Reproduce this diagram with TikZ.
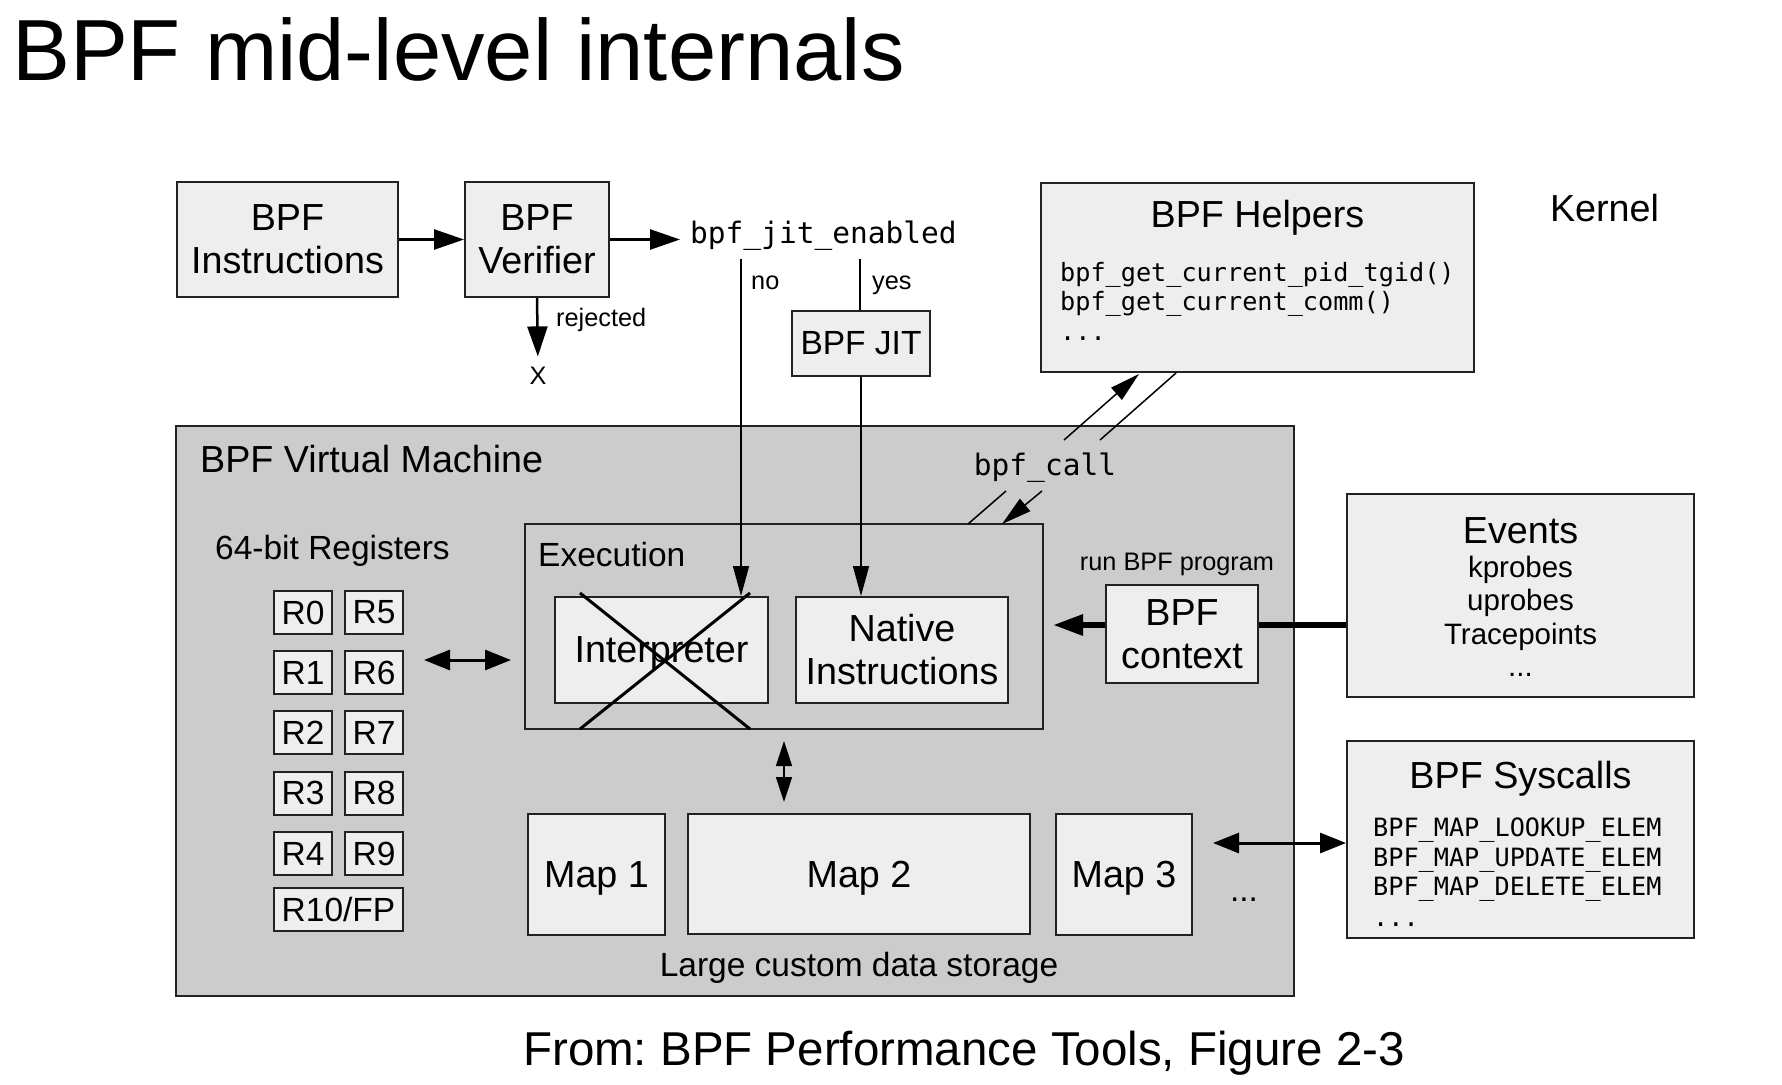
\documentclass[tikz,border=0pt]{standalone}
\usepackage{fontspec}
\setmainfont{Liberation Sans}
\setmonofont{DejaVu Sans Mono}
\usetikzlibrary{arrows.meta,positioning}
\definecolor{boxgray}{HTML}{EEEEEE}
\definecolor{vmgray}{HTML}{CCCCCC}
\definecolor{linegray}{HTML}{222222}
\newcommand{\bigtxt}{\fontsize{37.7}{43}\selectfont}
\newcommand{\midtxt}{\fontsize{33.5}{38}\selectfont}
\newcommand{\evtxt}{\fontsize{29.5}{34}\selectfont}
\newcommand{\smalltxt}{\fontsize{25.3}{30}\selectfont}
\newcommand{\codetxt}{\ttfamily\fontsize{29.5}{34}\selectfont}
\newcommand{\smallcode}{\ttfamily\fontsize{25.2}{30}\selectfont}
\frenchspacing

\begin{document}
\begin{tikzpicture}[x=1pt,y=-1pt]
    \tikzset{box/.style = {shape=rectangle,draw=linegray,line width=2pt,fill=boxgray,align=center,inner sep=0pt,font=\bigtxt}}
    \tikzset{onebox/.style = {box,text depth=0pt}}
    \tikzset{reg/.style = {box,font=\midtxt,minimum width=58pt,minimum height=43pt}}
    \tikzset{label/.style = {inner sep=0pt}}
    \tikzset{edge/.style = {-{Triangle[length=30pt,width=20pt]},line width=2.5pt}}
    \tikzset{thin edge/.style = {-{Triangle[length=30pt,width=16pt]},line width=1.5pt}}
    \tikzset{both edge/.style = {{Triangle[length=26pt,width=20pt]}-{Triangle[length=26pt,width=20pt]},line width=3pt}}
    \tikzset{slim both/.style = {{Triangle[length=25pt,width=16pt]}-{Triangle[length=25pt,width=16pt]},line width=1.5pt}}
    \useasboundingbox (0,0) rectangle (1782,1084);
    \node[label,anchor=base west,font=\fontsize{86.8}{100}\selectfont] (title) at (12,80) {BPF mid-level internals};
    % top row
    \node[box,minimum width=221pt,minimum height=115pt] (instr) at (287.5,239.5) {BPF\\Instructions};
    \node[box,minimum width=144pt,minimum height=115pt] (verif) at (537,239.5) {BPF\\Verifier};
    \node[label,anchor=base west,font=\codetxt] (jit) at (690,243) {bpf\_jit\_enabled};
    \node[label,anchor=base west,font=\smalltxt] (no) at (751,289) {no};
    \node[label,anchor=base west,font=\smalltxt] (yes) at (872,289) {yes};
    \node[box,font=\midtxt,minimum width=138pt,minimum height=65pt] (bpfjit) at (861,343.5) {BPF JIT};
    \node[label,anchor=base west,font=\smalltxt] (rej) at (556,326) {rejected};
    \node[label,anchor=base,font=\smalltxt] (x) at (538,384) {X};
    \node[label,anchor=base,font=\bigtxt] (kernel) at (1604.5,221) {Kernel};
    % helpers
    \node[box,minimum width=433pt,minimum height=189pt] (helpers) at (1257.5,277.5) {};
    \node[label,anchor=base,font=\bigtxt] (helpname) at (1257.5,227) {BPF Helpers};
    \node[label,anchor=base west,font=\smallcode] (help1) at (1060,281) {bpf\_get\_current\_pid\_tgid()};
    \node[label,anchor=base west,font=\smallcode] (help2) at (1060,310) {bpf\_get\_current\_comm()};
    \node[label,anchor=base west,font=\smallcode] (help3) at (1060,340) {...};
    % virtual machine
    \node[box,fill=vmgray,minimum width=1118pt,minimum height=570pt] (vm) at (735,711) {};
    \node[label,anchor=base west,font=\bigtxt] (vmname) at (200,472) {BPF Virtual Machine};
    \node[label,anchor=base,font=\codetxt] (call) at (1045,475) {bpf\_call};
    \node[label,anchor=base west,font=\midtxt] (reghead) at (215,559) {64-bit Registers};
    \node[reg] (r0) at (303,612.5) {R0};
    \node[reg] (r5) at (374,612.5) {R5};
    \node[reg] (r1) at (303,672.5) {R1};
    \node[reg] (r6) at (374,672.5) {R6};
    \node[reg] (r2) at (303,732.5) {R2};
    \node[reg] (r7) at (374,732.5) {R7};
    \node[reg] (r3) at (303,793) {R3};
    \node[reg] (r8) at (374,793) {R8};
    \node[reg] (r4) at (303,853.5) {R4};
    \node[reg] (r9) at (374,853.5) {R9};
    \node[reg,minimum width=129pt] (r10) at (338.5,909.5) {R10/FP};
    % execution
    \node[box,fill=vmgray,minimum width=518pt,minimum height=205pt] (exec) at (784,626.5) {};
    \node[label,anchor=base west,font=\midtxt] (execname) at (538,566) {Execution};
    \node[onebox,minimum width=213pt,minimum height=106pt] (interp) at (661.5,650) {Interpreter};
    \node[box,minimum width=212pt,minimum height=106pt] (native) at (902,650) {Native\\Instructions};
    % maps
    \node[onebox,minimum width=137pt,minimum height=121pt] (map1) at (596.5,874.5) {Map 1};
    \node[onebox,minimum width=342pt,minimum height=120pt] (map2) at (859,874) {Map 2};
    \node[onebox,minimum width=136pt,minimum height=121pt] (map3) at (1124,874.5) {Map 3};
    \node[label,anchor=base,font=\midtxt] (more) at (1244,901) {...};
    \node[label,anchor=base,font=\midtxt] (storage) at (859,976) {Large custom data storage};
    % context and events
    \node[label,anchor=base,font=\smalltxt] (run) at (1177,570) {run BPF program};
    \node[box,minimum width=152pt,minimum height=98pt] (ctx) at (1182,634) {BPF\\context};
    \node[box,minimum width=347pt,minimum height=203pt] (events) at (1520.5,595.5) {};
    \node[label,anchor=base,font=\bigtxt] (evname) at (1520.5,543) {Events};
    \node[label,anchor=base,font=\evtxt] (ev1) at (1520.5,577) {kprobes};
    \node[label,anchor=base,font=\evtxt] (ev2) at (1520.5,610) {uprobes};
    \node[label,anchor=base,font=\evtxt] (ev3) at (1520.5,644) {Tracepoints};
    \node[label,anchor=base,font=\evtxt] (ev4) at (1520.5,676) {...};
    % syscalls
    \node[box,minimum width=347pt,minimum height=197pt] (sys) at (1520.5,839.5) {};
    \node[label,anchor=base,font=\bigtxt] (sysname) at (1520.5,788) {BPF Syscalls};
    \node[label,anchor=base west,font=\smallcode] (sys1) at (1373,836) {BPF\_MAP\_LOOKUP\_ELEM};
    \node[label,anchor=base west,font=\smallcode] (sys2) at (1373,866) {BPF\_MAP\_UPDATE\_ELEM};
    \node[label,anchor=base west,font=\smallcode] (sys3) at (1373,895) {BPF\_MAP\_DELETE\_ELEM};
    \node[label,anchor=base west,font=\smallcode] (sys4) at (1373,926) {...};
    \node[label,anchor=base,font=\fontsize{47.5}{55}\selectfont] (caption) at (964,1065) {From: BPF Performance Tools, Figure 2-3};
    % edges
    \coordinate (nostart) at (741,259);
    \coordinate (yesstart) at (860,259);
    \coordinate (up1) at (1064,440);
    \coordinate (up2) at (1139,374);
    \coordinate (back1) at (1176,373);
    \coordinate (back2) at (1100,440);
    \coordinate (dn1) at (968,524);
    \coordinate (dn2) at (1006,491);
    \coordinate (dn3) at (1042,491);
    \coordinate (dn4) at (1002,524);
    \coordinate (rega) at (424,660);
    \coordinate (mapa) at (1213,843);
    \draw[edge] (instr) -- (verif);
    \draw[edge,shorten >=10pt] (verif.east) -- (verif.east -| jit.west);
    \draw[edge,shorten >=10pt] (verif.south) -- (x.north);
    \draw[thin edge] (nostart) -- (nostart |- interp.north);
    \draw[line width=1.5pt] (yesstart) -- (yesstart |- bpfjit.north);
    \draw[thin edge] (bpfjit.south) -- (bpfjit.south |- native.north);
    \draw[thin edge] (up1) -- (up2);
    \draw[line width=1.5pt] (back1) -- (back2);
    \draw[line width=1.5pt] (dn1) -- (dn2);
    \draw[thin edge] (dn3) -- (dn4);
    \draw[line width=3pt] (580,593) -- (750,729);
    \draw[line width=3pt] (750,593) -- (580,729);
    \draw[both edge,shorten >=13pt] (rega) -- (rega -| exec.west);
    \draw[slim both,shorten <=11pt,shorten >=11pt] (exec.south) -- (exec.south |- map2.north);
    \draw[both edge] (mapa) -- (mapa -| sys.west);
    \draw[line width=6pt] ([yshift=9pt]ctx.east) -- ([yshift=9pt]ctx.east -| events.west);
    \draw[edge,line width=6pt,shorten >=9pt] ([yshift=9pt]ctx.west) -- ([yshift=9pt]ctx.west -| exec.east);
\end{tikzpicture}
\end{document}
